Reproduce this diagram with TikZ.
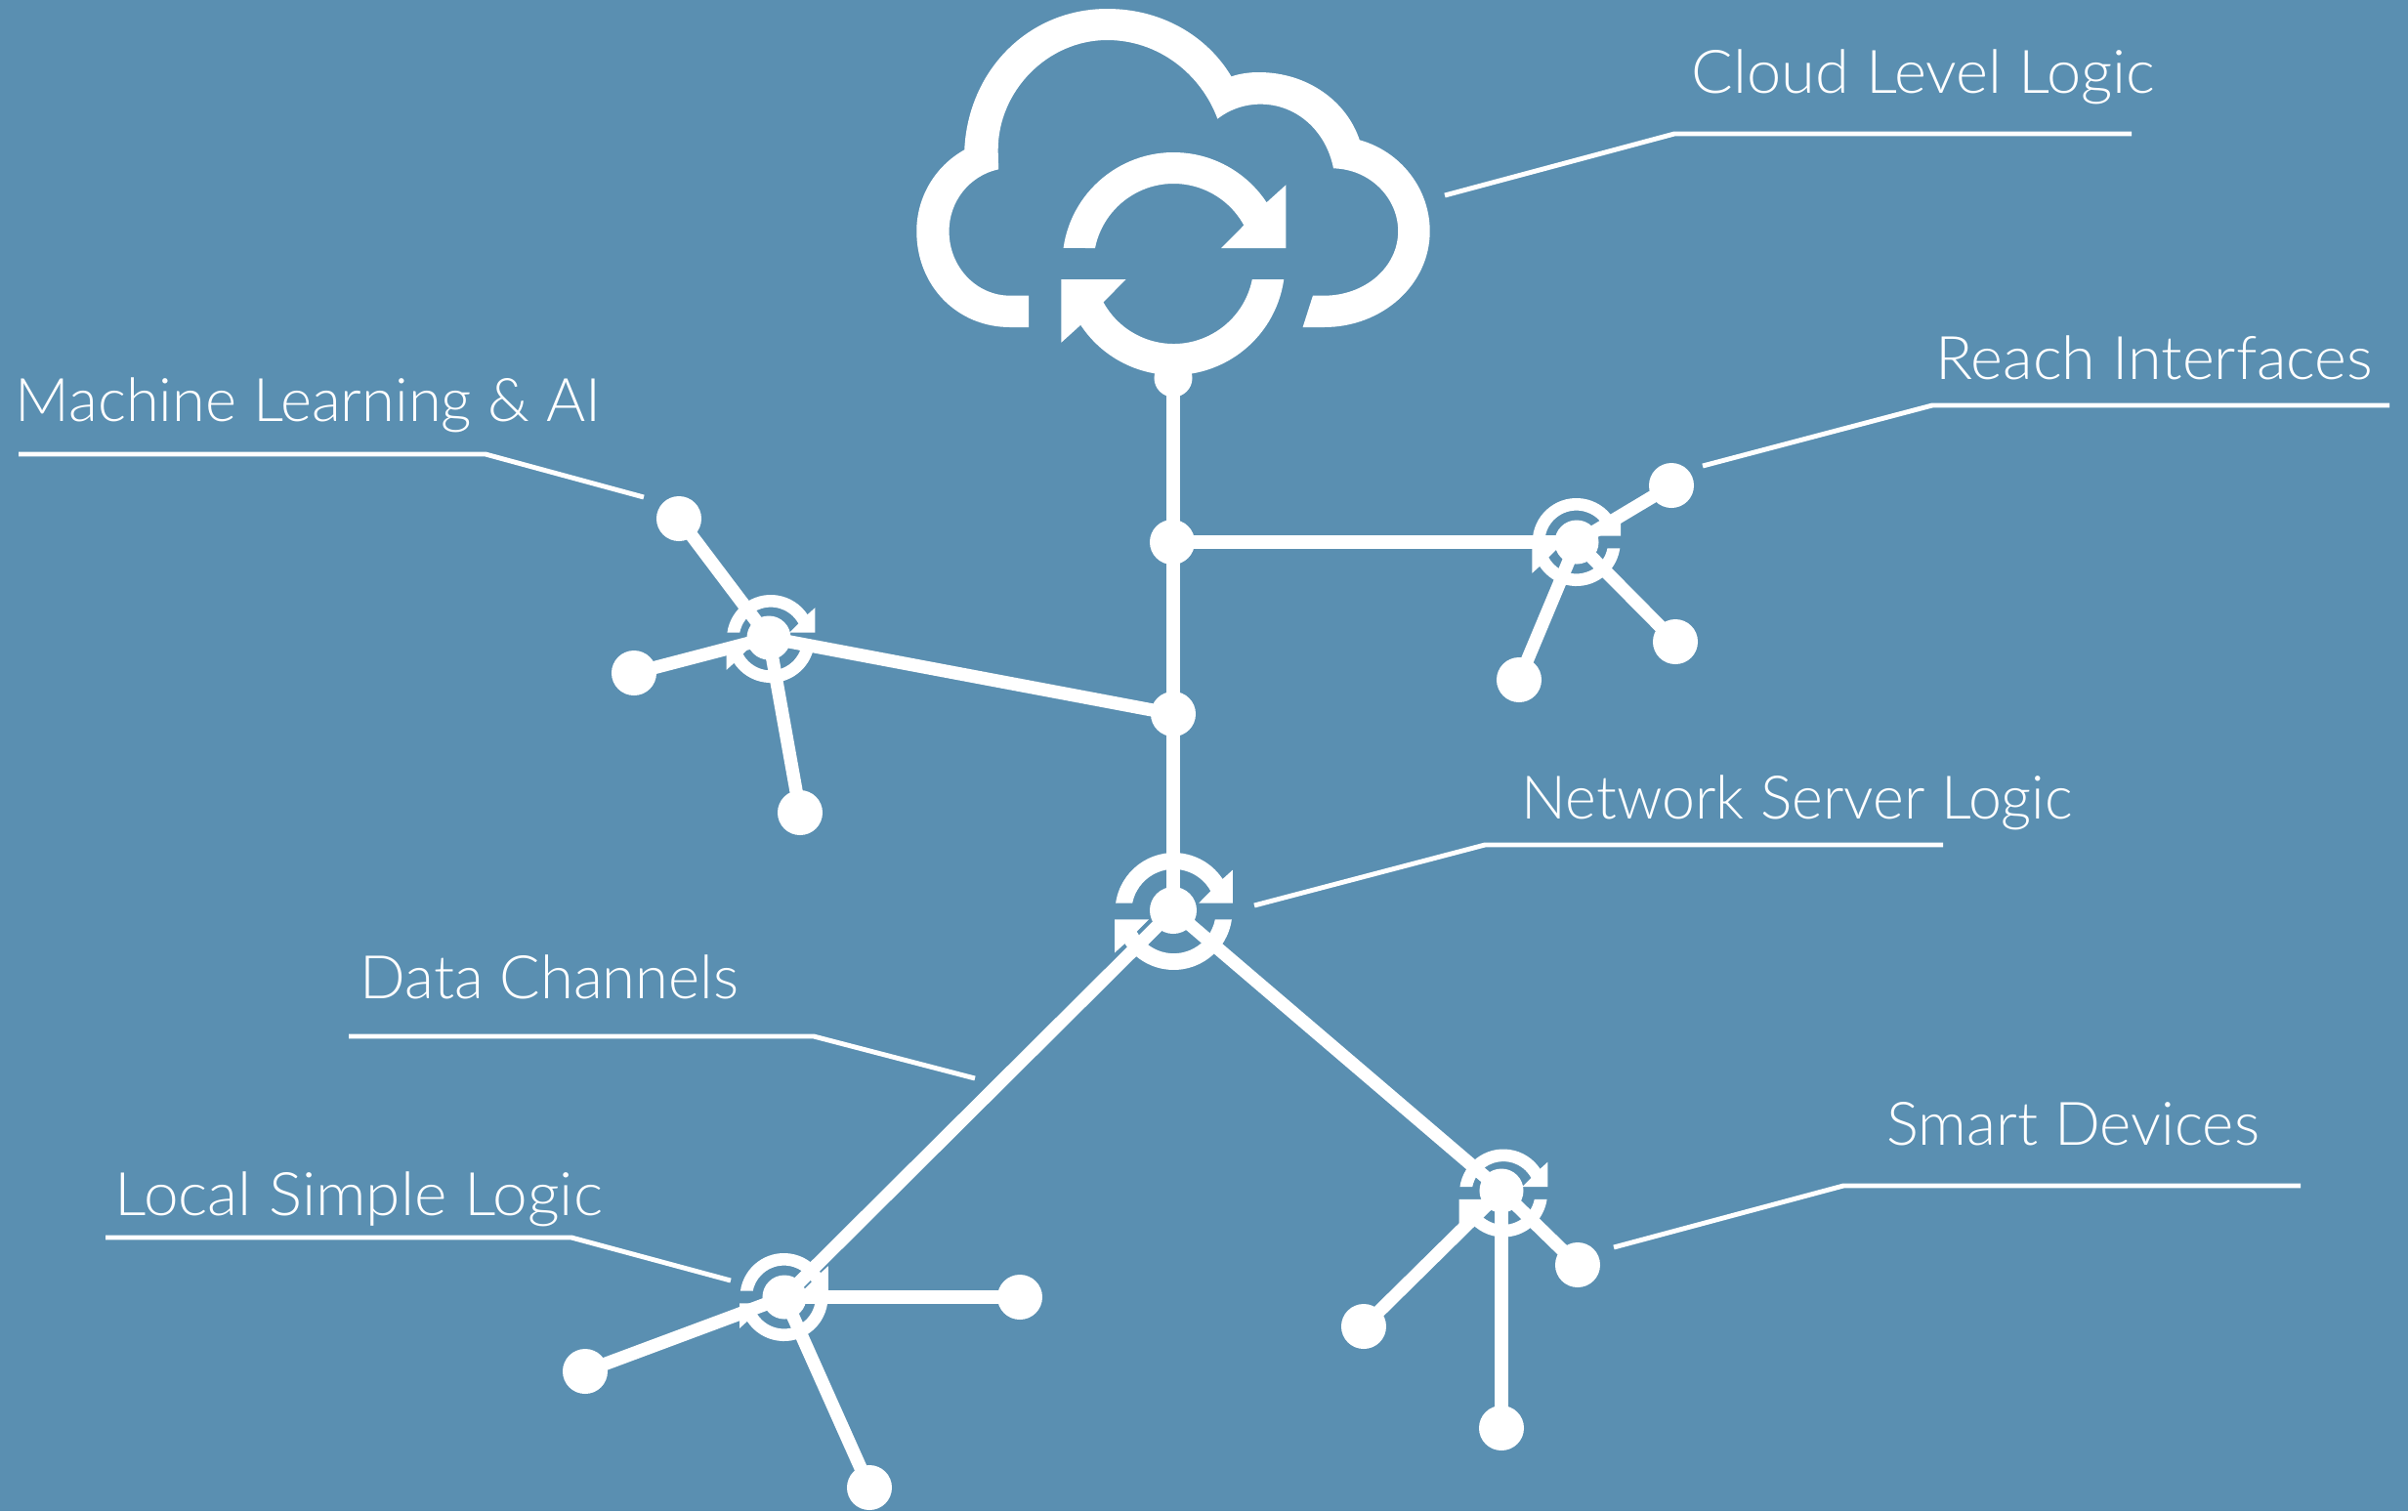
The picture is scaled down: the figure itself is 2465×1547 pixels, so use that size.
\documentclass[tikz,border=0pt]{standalone}
\usepackage{fontspec}
\setmainfont{Lato Light}
\definecolor{paper}{RGB}{90,143,177}
\newcommand{\lblstretch}[1]{\addfontfeatures{FakeStretch=#1}}
\tikzset{
  dotnode/.style={circle,fill=white,inner sep=0pt,minimum size=0.46cm},
  hubdot/.style={circle,fill=white,inner sep=0pt,minimum size=0.45cm},
  link/.style={draw=white,line width=3.8pt},
  leader/.style={draw=white,line width=1.4pt},
  lbl/.style={text=white,inner sep=0pt,anchor=base west,font=\fontsize{17.5}{20}\selectfont},
  syncicon/.pic={
    \begin{scope}[x=0.01cm,y=0.01cm]
      \fill[white] (171.9:114) arc[start angle=171.9,end angle=33.4,radius=114] -- (115,80.7) -- (115,16) -- (48.8,16) -- (28.7:82) arc[start angle=28.7,end angle=168.75,radius=82] -- cycle;
      \fill[white,rotate=180] (171.9:114) arc[start angle=171.9,end angle=33.4,radius=114] -- (115,80.7) -- (115,16) -- (48.8,16) -- (28.7:82) arc[start angle=28.7,end angle=168.75,radius=82] -- cycle;
    \end{scope}
  }
}
\begin{document}
\begin{tikzpicture}[x=0.01cm,y=-0.01cm]
\useasboundingbox (0,0) rectangle (2465,1547);
\fill[paper] (0,0) rectangle (2465,1547);
% cloud
\begin{scope}[shift={(900,0)},xscale=0.38270,yscale=0.33333]
\fill[white] (400,1005) -- (350,1005) .. controls (210,1005) and (100,880) .. (100,710)
 .. controls (100,605) and (150,510) .. (228,460)
 .. controls (238,215) and (400,27) .. (610,27)
 .. controls (760,27) and (880,115) .. (942,235)
 .. controls (965,226) and (990,222) .. (1015,222)
 .. controls (1145,222) and (1250,310) .. (1285,430)
 .. controls (1395,465) and (1473,580) .. (1473,710)
 .. controls (1473,875) and (1345,1005) .. (1190,1005)
 -- (1133,1005) -- (1160,908) -- (1190,908)
 .. controls (1300,908) and (1388,820) .. (1388,710)
 .. controls (1388,610) and (1315,520) .. (1215,517)
 .. controls (1195,400) and (1115,320) .. (1020,320)
 .. controls (975,320) and (935,338) .. (905,365)
 .. controls (860,225) and (745,123) .. (610,123)
 .. controls (450,123) and (318,280) .. (318,460)
 .. controls (318,480) and (319,500) .. (319,520)
 .. controls (240,540) and (187,620) .. (187,710)
 .. controls (187,820) and (260,908) .. (350,908)
 -- (400,908) -- cycle;
\end{scope}
% nodes
\node[circle,fill=white,inner sep=0pt,minimum size=0.39cm] (top) at (1201,387) {};
\node[dotnode] (j1) at (1200,555) {};
\node[dotnode] (j2) at (1201,731) {};
\node[hubdot,minimum height=0.48cm] (net) at (1201,932) {};
\node[hubdot] (reach) at (1614,555) {};
\node[hubdot] (ml) at (787,653) {};
\node[hubdot] (smart) at (1537,1219) {};
\node[hubdot] (local) at (803,1328) {};
\node[dotnode] (r1) at (1711,497) {};
\node[dotnode] (r2) at (1715,657) {};
\node[dotnode] (r3) at (1555,696) {};
\node[dotnode] (m1) at (695,531) {};
\node[dotnode] (m2) at (649,689) {};
\node[dotnode] (m3) at (819,832) {};
\node[dotnode] (s1) at (1615,1295) {};
\node[dotnode] (s2) at (1396,1358) {};
\node[dotnode] (s3) at (1537,1462) {};
\node[dotnode] (l1) at (1044,1328) {};
\node[dotnode] (l2) at (599,1404) {};
\node[dotnode] (l3) at (890,1523) {};
% sync icons
\pic at (1201.4,270) {syncicon};
\pic[scale=0.526] at (1201.5,933) {syncicon};
\pic[scale=0.395] at (1613.7,555) {syncicon};
\pic[scale=0.395] at (789,654) {syncicon};
\pic[scale=0.395] at (1539,1221.5) {syncicon};
\pic[scale=0.395] at (802.5,1328) {syncicon};
% links
\draw[link] (top.center) -- (net.center);
\draw[link] (j1.center) -- (reach.center);
\draw[link] (j2.center) -- (ml.center);
\draw[link] (net.center) -- (local.center);
\draw[link] (net.center) -- (smart.center);
\draw[link] (reach.center) -- (r1.center);
\draw[link] (reach.center) -- (r2.center);
\draw[link] (reach.center) -- (r3.center);
\draw[link] (ml.center) -- (m1.center);
\draw[link] (ml.center) -- (m2.center);
\draw[link] (ml.center) -- (m3.center);
\draw[link] (smart.center) -- (s1.center);
\draw[link] (smart.center) -- (s2.center);
\draw[link] (smart.center) -- (s3.center);
\draw[link] (local.center) -- (l1.center);
\draw[link] (local.center) -- (l2.center);
\draw[link] (local.center) -- (l3.center);
% labels
\node[lbl] (tcloud) at (1731,95) {\lblstretch{1.026}Cloud Level Logic};
\node[lbl] (treach) at (1981,388) {\lblstretch{1.022}Reach Interfaces};
\node[lbl] (tml) at (15,431) {\lblstretch{0.998}Machine Learning \& AI};
\node[lbl] (tnet) at (1557,838) {\lblstretch{0.988}Network Server Logic};
\node[lbl] (tdata) at (368,1022) {\lblstretch{1.0}Data Channels};
\node[lbl] (tlocal) at (117,1244) {\lblstretch{1.04}Local Simple Logic};
\node[lbl] (tsmart) at (1931,1172) {\lblstretch{1.003}Smart Devices};
% leaders
\coordinate (c1) at (1479,200); \coordinate (c2) at (1714,137); \coordinate (c3) at (2182,137);
\draw[leader] (c1) -- (c2) -- (c3);
\coordinate (e1) at (1743,477); \coordinate (e2) at (1978,415); \coordinate (e3) at (2446,415);
\draw[leader] (e1) -- (e2) -- (e3);
\coordinate (a1) at (659,509); \coordinate (a2) at (497,465); \coordinate (a3) at (19,465);
\draw[leader] (a1) -- (a2) -- (a3);
\coordinate (n1) at (1284,927); \coordinate (n2) at (1520,865); \coordinate (n3) at (1989,865);
\draw[leader] (n1) -- (n2) -- (n3);
\coordinate (d1) at (998,1104); \coordinate (d2) at (833,1061); \coordinate (d3) at (357,1061);
\draw[leader] (d1) -- (d2) -- (d3);
\coordinate (o1) at (748,1311); \coordinate (o2) at (585,1267); \coordinate (o3) at (108,1267);
\draw[leader] (o1) -- (o2) -- (o3);
\coordinate (v1) at (1652,1277); \coordinate (v2) at (1887,1214); \coordinate (v3) at (2355,1214);
\draw[leader] (v1) -- (v2) -- (v3);
\end{tikzpicture}
\end{document}
